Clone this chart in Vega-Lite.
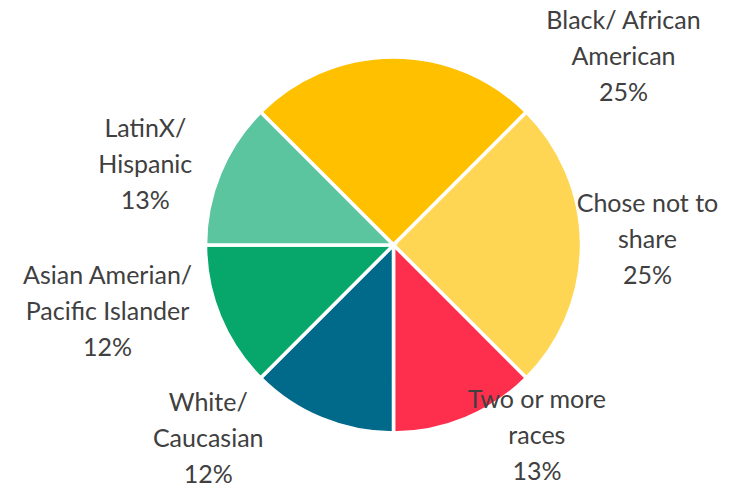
{
  "$schema": "https://vega.github.io/schema/vega-lite/v6.json",
  "width": 673,
  "height": 478,
  "autosize": {"type": "none"},
  "padding": {"left": 57, "top": 6, "right": 0, "bottom": 0},
  "background": "white",
  "view": {"stroke": null},
  "data": {
    "values": [
      {"idx": 1, "category": "Black/ African American", "value": 25, "label": ["Black/ African", "American", "25%"]},
      {"idx": 2, "category": "Chose not to share", "value": 25, "label": ["Chose not to", "share", "25%"]},
      {"idx": 3, "category": "Two or more races", "value": 12.5, "label": ["Two or more", "races", "13%"]},
      {"idx": 4, "category": "White/ Caucasian", "value": 12.5, "label": ["White/", "Caucasian", "12%"]},
      {"idx": 5, "category": "Asian Amerian/ Pacific Islander", "value": 12.5, "label": ["Asian Amerian/", "Pacific Islander", "12%"]},
      {"idx": 6, "category": "LatinX/ Hispanic", "value": 12.5, "label": ["LatinX/", "Hispanic", "13%"]}
    ]
  },
  "encoding": {
    "theta": {"field": "value", "type": "quantitative", "stack": true, "scale": {"range": [-0.7854, 5.4978]}},
    "order": {"field": "idx", "type": "quantitative"}
  },
  "layer": [
    {
      "mark": {"type": "arc", "outerRadius": 188, "stroke": "white", "strokeWidth": 3.5},
      "encoding": {
        "color": {
          "field": "category",
          "type": "nominal",
          "legend": null,
          "scale": {
            "domain": ["Black/ African American", "Chose not to share", "Two or more races", "White/ Caucasian", "Asian Amerian/ Pacific Islander", "LatinX/ Hispanic"],
            "range": ["#FFC000", "#FFD653", "#FD2F4D", "#016A8B", "#07A66B", "#5BC5A0"]
          }
        }
      }
    },
    {
      "mark": {"type": "text", "radius": 188, "dx": 230, "dy": -36, "font": "Lato", "fontSize": 25, "lineHeight": 36, "color": "#404040", "align": "center", "baseline": "middle"},
      "encoding": {"text": {"condition": {"test": "datum.idx === 1", "field": "label"}, "value": ""}}
    },
    {
      "mark": {"type": "text", "radius": 254, "dx": 0, "dy": -41, "font": "Lato", "fontSize": 25, "lineHeight": 36, "color": "#404040", "align": "center", "baseline": "middle"},
      "encoding": {"text": {"condition": {"test": "datum.idx === 2", "field": "label"}, "value": ""}}
    },
    {
      "mark": {"type": "text", "radius": 231, "dx": 55, "dy": -58, "font": "Lato", "fontSize": 25, "lineHeight": 36, "color": "#404040", "align": "center", "baseline": "middle"},
      "encoding": {"text": {"condition": {"test": "datum.idx === 3", "field": "label"}, "value": ""}}
    },
    {
      "mark": {"type": "text", "radius": 249, "dx": -90, "dy": -72, "font": "Lato", "fontSize": 25, "lineHeight": 36, "color": "#404040", "align": "center", "baseline": "middle"},
      "encoding": {"text": {"condition": {"test": "datum.idx === 4", "field": "label"}, "value": ""}}
    },
    {
      "mark": {"type": "text", "radius": 290, "dx": -18, "dy": -80, "font": "Lato", "fontSize": 25, "lineHeight": 36, "color": "#404040", "align": "center", "baseline": "middle"},
      "encoding": {"text": {"condition": {"test": "datum.idx === 5", "field": "label"}, "value": ""}}
    },
    {
      "mark": {"type": "text", "radius": 260, "dx": -8, "dy": -16, "font": "Lato", "fontSize": 25, "lineHeight": 36, "color": "#404040", "align": "center", "baseline": "middle"},
      "encoding": {"text": {"condition": {"test": "datum.idx === 6", "field": "label"}, "value": ""}}
    }
  ]
}
